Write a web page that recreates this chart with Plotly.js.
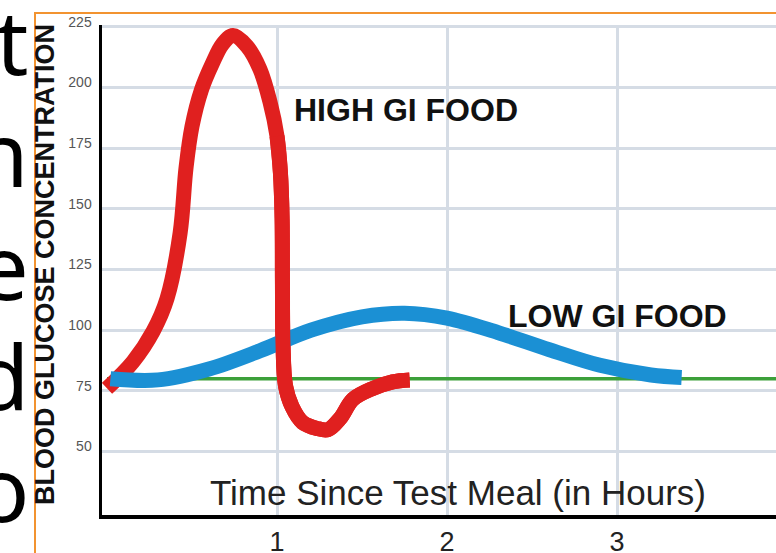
<!DOCTYPE html>
<html>
<head>
<meta charset="utf-8">
<script src="https://cdn.plot.ly/plotly-3.0.1.min.js"></script>
<style>
  html, body { margin: 0; padding: 0; background: #ffffff; overflow: hidden; }
  #chart { width: 776px; height: 553px; }
</style>
</head>
<body>
<div id="chart"></div>
<script>
// ---- data ----
const timeHigh = [0.0, 0.153, 0.271, 0.353, 0.43, 0.465, 0.50, 0.555, 0.62, 0.68, 0.741, 0.824, 0.90, 0.959, 1.0, 1.02, 1.03, 1.032, 1.035, 1.05, 1.088, 1.15, 1.235, 1.30, 1.37, 1.447, 1.565, 1.68, 1.78];
const glucoseHigh = [76, 87, 99.5, 113, 140, 167, 184, 199, 210, 218, 221.5, 217, 207.5, 194, 180, 165, 146, 120, 95, 77, 68.5, 62, 59.5, 59, 63.5, 71.5, 76, 78.7, 79.5];

const timeLow = [0.02, 0.3, 0.6, 0.9, 1.2, 1.5, 1.75, 2.0, 2.3, 2.6, 2.9, 3.2, 3.38];
const glucoseLow = [80, 79.5, 84, 91.5, 100, 105.5, 107, 105, 99, 92, 85.5, 81.5, 80.5];

const baselineTime = [0, 4];
const baselineGlucose = [80, 80];

const yTickVals = [50, 75, 100, 125, 150, 175, 200, 225];
const xTickVals = [1, 2, 3];
const xTickText = ["1", "2", "3"];

const seriesLabels = ["HIGH GI FOOD", "LOW GI FOOD"];
const xTitle = "Time Since Test Meal (in Hours)";
const yTitle = "BLOOD GLUCOSE CONCENTRATION";
const sideLetters = ["t", "n", "e", "d", "o"];

// ---- layout helpers (pixel -> paper) ----
const L = 102, T = 25, W = 674, H = 490;
const px = p => (p - L) / W;
const py = p => (T + H - p) / H;

// the red curve passes under the blue one at the start, over it at the drop
const overIdx = 14;
const redLine = { color: '#e0201f', width: 15, shape: 'spline', smoothing: 1 };
const traces = [
  { x: baselineTime, y: baselineGlucose, mode: 'lines', line: { color: '#3ca03a', width: 3.5 }, hoverinfo: 'skip' },
  { x: timeHigh, y: glucoseHigh, mode: 'lines', line: redLine, name: seriesLabels[0] },
  { x: timeLow, y: glucoseLow, mode: 'lines', line: { color: '#1b90d4', width: 15, shape: 'spline', smoothing: 1 }, name: seriesLabels[1] },
  { x: timeHigh.slice(overIdx), y: glucoseHigh.slice(overIdx), mode: 'lines', line: redLine, name: seriesLabels[0] }
];

const letterBaselines = [75, 187, 300, 410, 522];
const annotations = [
  { text: '<b>' + seriesLabels[0] + '</b>', xref: 'paper', yref: 'paper', x: px(406), y: py(110), showarrow: false,
    font: { family: 'Liberation Sans, Arial, sans-serif', size: 32, color: '#111' }, xanchor: 'center', yanchor: 'middle' },
  { text: '<b>' + seriesLabels[1] + '</b>', xref: 'paper', yref: 'paper', x: px(617), y: py(316), showarrow: false,
    font: { family: 'Liberation Sans, Arial, sans-serif', size: 32, color: '#111' }, xanchor: 'center', yanchor: 'middle' },
  { text: xTitle, xref: 'paper', yref: 'paper', x: px(458), y: py(492), showarrow: false,
    font: { family: 'Liberation Sans, Arial, sans-serif', size: 35, color: '#222' }, xanchor: 'center', yanchor: 'middle' },
  { text: '<b>' + yTitle + '</b>', xref: 'paper', yref: 'paper', x: px(45), y: py(265), showarrow: false, textangle: -90,
    font: { family: 'Liberation Sans, Arial, sans-serif', size: 27, color: '#111' }, xanchor: 'center', yanchor: 'middle' }
];

sideLetters.forEach((ch, i) => {
  annotations.push({ text: ch, xref: 'paper', yref: 'paper', x: px(31), y: py(letterBaselines[i] - 35), showarrow: false,
    font: { family: 'Noto Sans, sans-serif', size: 90, color: '#000' }, xanchor: 'right', yanchor: 'middle' });
});

const layout = {
  width: 776, height: 553,
  margin: { l: L, r: 0, t: T, b: 553 - T - H, pad: 0 },
  paper_bgcolor: '#ffffff', plot_bgcolor: '#ffffff',
  showlegend: false,
  xaxis: {
    range: [-0.0294, 3.935], tickvals: xTickVals, ticktext: xTickText,
    showgrid: true, gridcolor: '#d5dce5', gridwidth: 3, zeroline: false,
    showline: true, linecolor: '#000', linewidth: 3.5, ticks: '',
    tickfont: { family: 'Liberation Sans, Arial, sans-serif', size: 27, color: '#222' },
    ticklabelstandoff: 0, fixedrange: true
  },
  yaxis: {
    range: [23.8, 225.8], tickvals: yTickVals,
    showgrid: true, gridcolor: '#d5dce5', gridwidth: 3, zeroline: false,
    showline: true, linecolor: '#000', linewidth: 3.5, ticks: '',
    tickfont: { family: 'Liberation Sans, Arial, sans-serif', size: 14, color: '#555' },
    ticklabelstandoff: 4, ticklabelshift: -5, fixedrange: true
  },
  annotations: annotations,
  shapes: [
    { type: 'line', xref: 'paper', yref: 'paper', x0: px(35), x1: px(35), y0: py(13), y1: py(560), line: { color: '#f29330', width: 2 } },
    { type: 'line', xref: 'paper', yref: 'paper', x0: px(34), x1: px(790), y0: py(13), y1: py(13), line: { color: '#f29330', width: 2 } }
  ]
};

Plotly.newPlot('chart', traces, layout, { staticPlot: true, displayModeBar: false });
</script>
</body>
</html>
